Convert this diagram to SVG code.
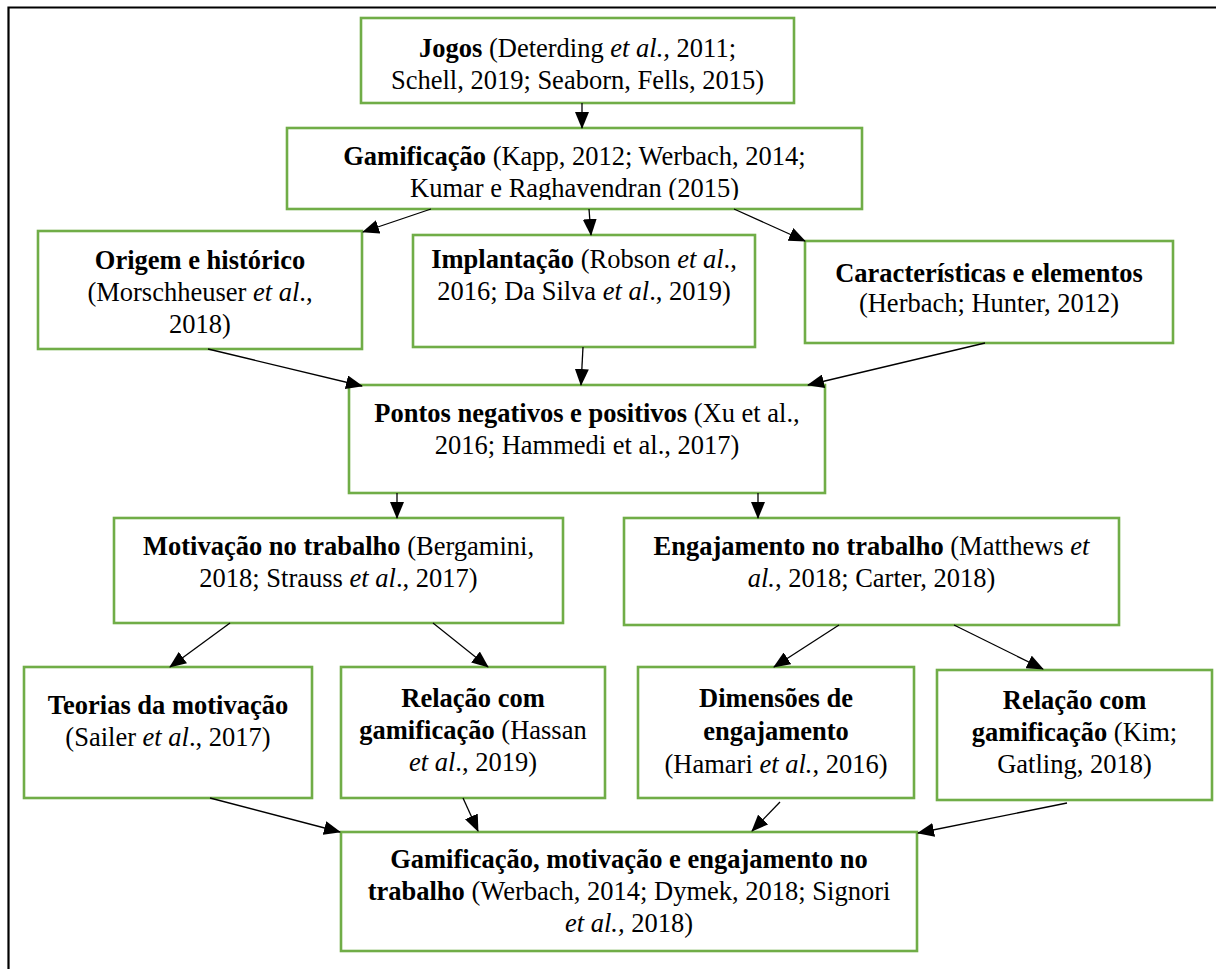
<svg xmlns="http://www.w3.org/2000/svg" width="1216" height="969" viewBox="0 0 1216 969">
<style>
.box{fill:#fff;stroke:#70AD47;stroke-width:2.6}
.t{font-size:26.5px;fill:#000;text-anchor:middle}
.b{font-weight:bold}
.i{font-style:italic}
.c{stroke:#000;stroke-width:1.3;fill:none;marker-end:url(#ah)}
.frame{stroke:#000;stroke-width:2.2;fill:none}
</style>
<defs>
<marker id="ah" markerUnits="userSpaceOnUse" markerWidth="17" markerHeight="14" viewBox="0 0 17 14" refX="16" refY="7" orient="auto">
<path d="M0,0 L17,7 L0,14 Z" fill="#000"/>
</marker>
<clipPath id="clipGam"><rect x="287" y="128" width="575" height="72"/></clipPath>
</defs>
<rect width="1216" height="969" fill="#fff"/>
<path class="frame" d="M8.5,969 L8.5,7.5 L1216,7.5"/>

<g font-family="Liberation Serif, Times New Roman, DejaVu Serif, serif">
<g id="n-jogos">
<rect class="box" x="361" y="18" width="433" height="85"/>
<text class="t" x="577.5" y="57"><tspan class="b">Jogos</tspan> (Deterding <tspan class="i">et al.,</tspan> 2011;</text>
<text class="t" x="577.5" y="89">Schell, 2019; Seaborn, Fells, 2015)</text>
</g>
<g id="n-gamificacao">
<rect class="box" x="287" y="128" width="575" height="81"/>
<g clip-path="url(#clipGam)">
<text class="t" x="574.5" y="165"><tspan class="b">Gamificação</tspan> (Kapp, 2012; Werbach, 2014;</text>
<text class="t" x="574.5" y="197">Kumar e Raghavendran (2015)</text>
</g>
</g>
<g id="n-origem">
<rect class="box" x="38" y="231" width="324" height="118"/>
<text class="t b" x="200" y="269">Origem e histórico</text>
<text class="t" x="200" y="301">(Morschheuser <tspan class="i">et al</tspan>.,</text>
<text class="t" x="200" y="333">2018)</text>
</g>
<g id="n-implantacao">
<rect class="box" x="413" y="235" width="342" height="112"/>
<text class="t" x="584" y="268"><tspan class="b">Implantação</tspan> (Robson <tspan class="i">et al</tspan>.,</text>
<text class="t" x="584" y="300">2016; Da Silva <tspan class="i">et al</tspan>., 2019)</text>
</g>
<g id="n-caracteristicas">
<rect class="box" x="805" y="241" width="368" height="102"/>
<text class="t b" x="989" y="282">Características e elementos</text>
<text class="t" x="989" y="312">(Herbach; Hunter, 2012)</text>
</g>
<g id="n-pontos">
<rect class="box" x="349" y="385" width="476" height="108"/>
<text class="t" x="587" y="422"><tspan class="b">Pontos negativos e positivos</tspan> (Xu et al.,</text>
<text class="t" x="587" y="454">2016; Hammedi et al., 2017)</text>
</g>
<g id="n-motivacao">
<rect class="box" x="114" y="518" width="449" height="105"/>
<text class="t" x="338.5" y="555"><tspan class="b">Motivação no trabalho</tspan> (Bergamini,</text>
<text class="t" x="338.5" y="587">2018; Strauss <tspan class="i">et al</tspan>., 2017)</text>
</g>
<g id="n-engajamento">
<rect class="box" x="624" y="518" width="495" height="107"/>
<text class="t" x="871.5" y="555"><tspan class="b">Engajamento no trabalho</tspan> (Matthews <tspan class="i">et</tspan></text>
<text class="t" x="871.5" y="587"><tspan class="i">al.</tspan>, 2018; Carter, 2018)</text>
</g>
<g id="n-teorias">
<rect class="box" x="24" y="667" width="288" height="131"/>
<text class="t b" x="168" y="714">Teorias da motivação</text>
<text class="t" x="168" y="746">(Sailer <tspan class="i">et al</tspan>., 2017)</text>
</g>
<g id="n-relacao-hassan">
<rect class="box" x="341" y="667" width="264" height="131"/>
<text class="t b" x="473" y="707">Relação com</text>
<text class="t" x="473" y="739"><tspan class="b">gamificação</tspan> (Hassan</text>
<text class="t" x="473" y="771"><tspan class="i">et al</tspan>., 2019)</text>
</g>
<g id="n-dimensoes">
<rect class="box" x="638" y="667" width="276" height="131"/>
<text class="t b" x="776" y="707">Dimensões de</text>
<text class="t b" x="776" y="740">engajamento</text>
<text class="t" x="776" y="773">(Hamari <tspan class="i">et al.</tspan>, 2016)</text>
</g>
<g id="n-relacao-kim">
<rect class="box" x="937" y="670" width="275" height="130"/>
<text class="t b" x="1074.5" y="709">Relação com</text>
<text class="t" x="1074.5" y="741"><tspan class="b">gamificação</tspan> (Kim;</text>
<text class="t" x="1074.5" y="773">Gatling, 2018)</text>
</g>
<g id="n-final">
<rect class="box" x="341" y="832" width="576" height="119"/>
<text class="t b" x="629" y="868">Gamificação, motivação e engajamento no</text>
<text class="t" x="629" y="900"><tspan class="b">trabalho</tspan> (Werbach, 2014; Dymek, 2018; Signori</text>
<text class="t" x="629" y="932"><tspan class="i">et al.,</tspan> 2018)</text>
</g>
</g>

<g id="connectors">
<path class="c" d="M582,103 L582,128"/>
<path class="c" d="M431,209 L363,232"/>
<path class="c" d="M589,209 L591,235"/>
<path class="c" d="M734,209 L805,241"/>
<path class="c" d="M208,349 L362,386"/>
<path class="c" d="M583,347 L581,385"/>
<path class="c" d="M985,343 L808,385"/>
<path class="c" d="M397,493 L397,518"/>
<path class="c" d="M758,493 L758,518"/>
<path class="c" d="M230,623 L170,667"/>
<path class="c" d="M433,623 L488,667"/>
<path class="c" d="M839,625 L774,667"/>
<path class="c" d="M954,625 L1043,669"/>
<path class="c" d="M210,798 L340,832"/>
<path class="c" d="M463,798 L478,831"/>
<path class="c" d="M780,802 L752,831"/>
<path class="c" d="M1067,803 L918,833"/>
</g>
</svg>
